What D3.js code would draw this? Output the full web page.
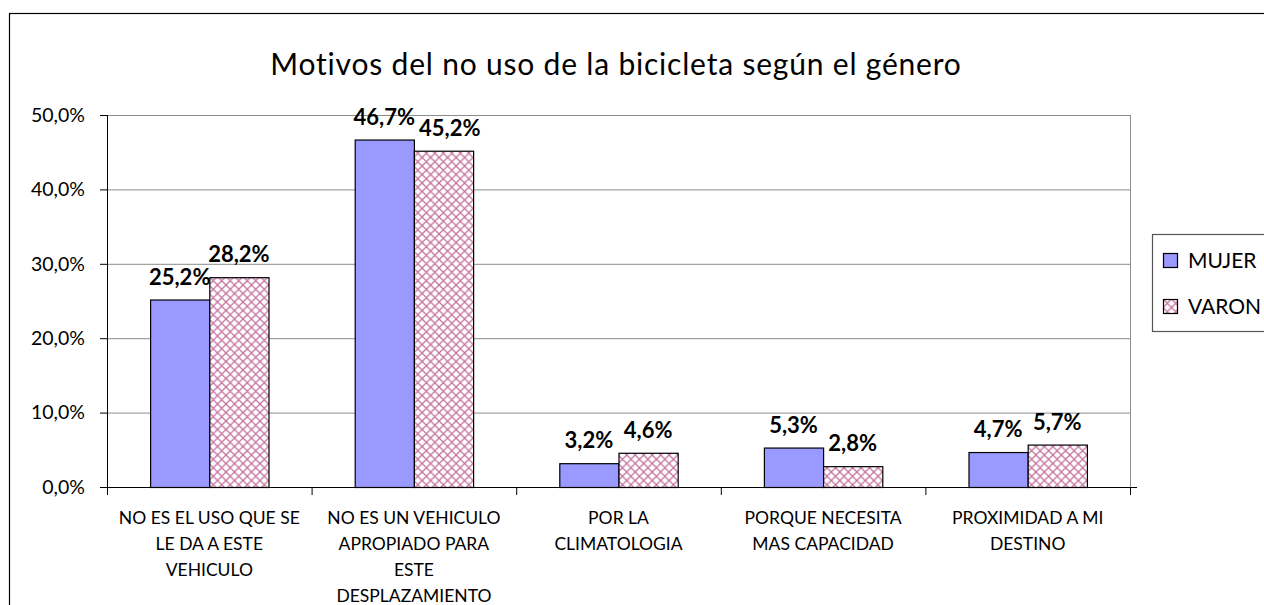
<!DOCTYPE html>
<html>
<head>
<meta charset="utf-8">
<script src="https://cdn.jsdelivr.net/npm/d3@7"></script>
<style>
  body { margin:0; background:#fff; overflow:hidden; }
  text { font-family: Lato, "Open Sans", sans-serif; fill:#000; }
</style>
</head>
<body>
<div id="chart-area"></div>
<script>
// chart data
const categories = [
  ["NO ES EL USO QUE SE", "LE DA A ESTE", "VEHICULO"],
  ["NO ES UN VEHICULO", "APROPIADO PARA", "ESTE", "DESPLAZAMIENTO"],
  ["POR LA", "CLIMATOLOGIA"],
  ["PORQUE NECESITA", "MAS CAPACIDAD"],
  ["PROXIMIDAD A MI", "DESTINO"]
];
const series = ["MUJER", "VARON"];
const mujer = [25.2, 46.7, 3.2, 5.3, 4.7];
const varon = [28.2, 45.2, 4.6, 2.8, 5.7];
const yTicks = [0, 10, 20, 30, 40, 50];
const title = "Motivos del no uso de la bicicleta según el género";

// canvas size
const svgWidth = 1264, svgHeight = 605;
const margin = { left:107, top:115 };
const chartWidth = 1130 - 107, chartHeight = 487 - 115;

var svg = d3.select("#chart-area").append("svg")
    .attr("width", svgWidth)
    .attr("height", svgHeight);

// hatch pattern for VARON
var defs = svg.append("defs");
var pat = defs.append("pattern")
    .attr("id", "hatch")
    .attr("patternUnits", "userSpaceOnUse")
    .attr("width", 8.5).attr("height", 8.5);
pat.append("rect").attr("width", 8.5).attr("height", 8.5).attr("fill", "#fff");
pat.append("path")
    .attr("d", "M0,0 L8.5,8.5 M8.5,0 L0,8.5 M-1,7.5 L1,9.5 M7.5,-1 L9.5,1")
    .attr("stroke", "#c4709e")
    .attr("stroke-width", 1.3)
    .attr("fill", "none");

// outer frame
svg.append("rect")
    .attr("x", 9.5).attr("y", 13.5)
    .attr("width", 1400).attr("height", 800)
    .attr("fill", "none").attr("stroke", "#000").attr("stroke-width", 1.2);

// title
svg.append("text")
    .attr("x", 616).attr("y", 75)
    .attr("text-anchor", "middle")
    .attr("font-size", "30px")
    .attr("letter-spacing", "0.8px")
    .text(title);

var g = svg.append("g")
    .attr("transform", "translate(" + margin.left + "," + margin.top + ")");

// scales
var x0 = d3.scaleBand().domain(d3.range(categories.length)).range([0, chartWidth]).padding(0);
var x1 = d3.scaleBand().domain(series).range([0, x0.bandwidth()])
    .paddingInner(0).paddingOuter(0.728);
var y = d3.scaleLinear().domain([0, 50]).range([chartHeight, 0]);

// gridlines
g.selectAll(".grid").data(yTicks.slice(1)).enter().append("line")
    .attr("x1", 0).attr("x2", chartWidth)
    .attr("y1", d => y(d) + 0.5).attr("y2", d => y(d) + 0.5)
    .attr("stroke", "#8c8c8c").attr("stroke-width", 1);
g.append("line")
    .attr("x1", chartWidth + 0.5).attr("x2", chartWidth + 0.5)
    .attr("y1", 0).attr("y2", chartHeight)
    .attr("stroke", "#8c8c8c");

// bars
var rows = categories.map((c, i) => ({ i: i, vals: [mujer[i], varon[i]] }));
var groups = g.selectAll(".grp").data(rows).enter().append("g")
    .attr("transform", d => "translate(" + x0(d.i) + ",0)");
groups.selectAll("rect").data(d => d.vals.map((v, k) => ({ s: series[k], v: v })))
    .enter().append("rect")
    .attr("x", d => x1(d.s) + 0.5)
    .attr("y", d => y(d.v) + 0.5)
    .attr("width", x1.bandwidth())
    .attr("height", d => chartHeight - y(d.v))
    .attr("fill", d => d.s === "MUJER" ? "#9999ff" : "url(#hatch)")
    .attr("stroke", "#000").attr("stroke-width", 1.2);

// data labels
var fmt = v => v.toFixed(1).replace(".", ",") + "%";
groups.each(function(d){
    var grp = d3.select(this);
    var labels = d.vals.map(function(v, k){
        return grp.append("text")
            .attr("x", x1(series[k]) + x1.bandwidth() / 2)
            .attr("y", y(v) - 15)
            .attr("text-anchor", "middle")
            .attr("font-size", "22px")
            .attr("font-weight", "bold")
            .text(fmt(v));
    });
    // nudge second label right when both labels collide
    var a = labels[0].node().getBBox(), b = labels[1].node().getBBox();
    var overlap = a.x + a.width + 4 - b.x;
    if (overlap > 0 && Math.abs(a.y - b.y) < 18) {
        labels[1].attr("x", +labels[1].attr("x") + overlap);
    }
});

// y axis
var yAxis = g.append("g")
    .call(d3.axisLeft(y).tickValues(yTicks).tickSize(7).tickPadding(15)
        .tickFormat(d => d.toFixed(1).replace(".", ",") + "%"));
yAxis.select(".domain").attr("stroke", "#000").attr("d", "M0.5,0V" + chartHeight);
yAxis.selectAll("line").attr("stroke", "#000");
yAxis.selectAll("text").attr("font-size", "19.5px").attr("font-family", "Lato");

// x axis
var xAxis = g.append("g")
    .attr("transform", "translate(0," + chartHeight + ")");
xAxis.append("line")
    .attr("x1", -7).attr("x2", chartWidth + 7)
    .attr("y1", 0.5).attr("y2", 0.5).attr("stroke", "#000");
xAxis.selectAll(".tk").data(d3.range(categories.length + 1)).enter().append("line")
    .attr("x1", d => (d < categories.length ? x0(d) : chartWidth) + 0.5)
    .attr("x2", d => (d < categories.length ? x0(d) : chartWidth) + 0.5)
    .attr("y1", 0).attr("y2", 8).attr("stroke", "#000");
var lab = xAxis.selectAll(".cat").data(rows).enter().append("text")
    .attr("text-anchor", "middle")
    .attr("font-size", "17.5px")
    .attr("transform", d => "translate(" + (x0(d.i) + x0.bandwidth() / 2) + ",37)");
lab.selectAll("tspan").data(d => categories[d.i]).enter().append("tspan")
    .attr("x", 0).attr("dy", (d, k) => k === 0 ? 0 : 26)
    .text(d => d);

// legend
var leg = svg.append("g");
leg.append("rect")
    .attr("x", 1152.5).attr("y", 234.5).attr("width", 200).attr("height", 97)
    .attr("fill", "#fff").attr("stroke", "#555").attr("stroke-width", 1.2);
var li = leg.selectAll(".li").data(series).enter().append("g")
    .attr("transform", (d, k) => "translate(1163," + (253 + k * 46) + ")");
li.append("rect")
    .attr("x", 0.5).attr("y", 0.5).attr("width", 14).attr("height", 14)
    .attr("fill", d => d === "MUJER" ? "#9999ff" : "url(#hatch)")
    .attr("stroke", "#000").attr("stroke-width", 1.2);
li.append("text")
    .attr("x", 25).attr("y", 15)
    .attr("font-size", "21px")
    .text(d => d);
</script>
</body>
</html>
